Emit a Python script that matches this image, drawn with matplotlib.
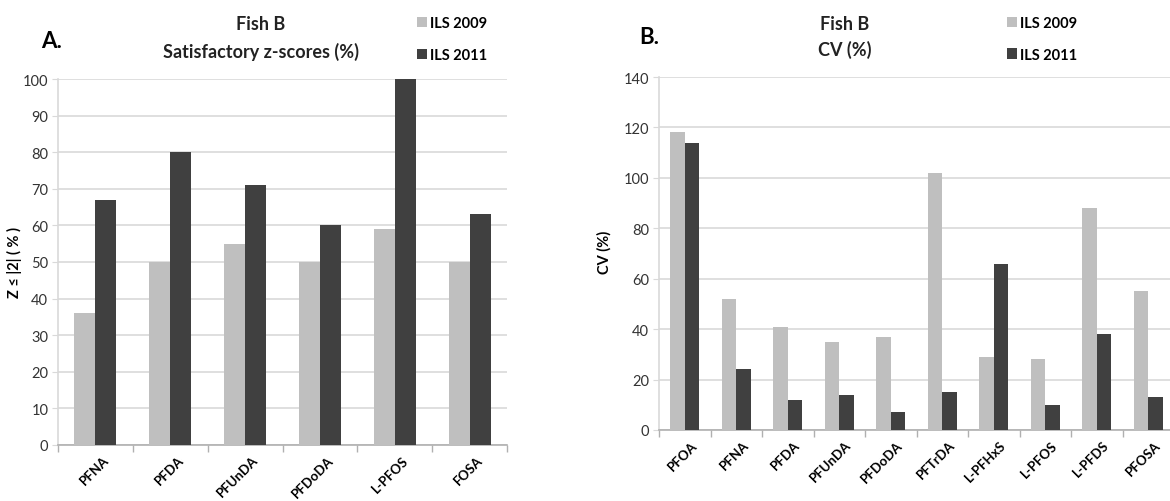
import numpy as np
import matplotlib
matplotlib.use("Agg")
import matplotlib.pyplot as plt
import matplotlib.transforms as mtransforms
from matplotlib.ticker import FixedLocator

# ----------------------------
# Data
# ----------------------------
z_compounds = ["PFNA", "PFDA", "PFUnDA", "PFDoDA", "L-PFOS", "FOSA"]
z_2009 = [36, 50, 55, 50, 59, 50]
z_2011 = [67, 80, 71, 60, 100, 63]

cv_compounds = ["PFOA", "PFNA", "PFDA", "PFUnDA", "PFDoDA", "PFTrDA",
                "L-PFHxS", "L-PFOS", "L-PFDS", "PFOSA"]
cv_2009 = [118, 52, 41, 35, 37, 102, 29, 28, 88, 55]
cv_2011 = [114, 24, 12, 14, 7, 15, 66, 10, 38, 13]

series_labels = ["ILS 2009", "ILS 2011"]

# ----------------------------
# Style
# ----------------------------
plt.rcParams["font.family"] = ["Lato", "DejaVu Sans"]
LIGHT = "#bfbfbf"
DARK = "#404040"
GRID = "#d9d9d9"
W, H = 1170, 502

fig = plt.figure(figsize=(W / 100, H / 100), dpi=100)


def px(x, y):
    # pixel coords (from top-left) -> figure fraction
    return x / W, 1 - y / H


def draw_panel(ax, cats, a, b, ymax, ystep, label_shift):
    x = np.arange(len(cats))
    bw = 0.28
    bars1 = ax.bar(x - bw / 2, a, bw, color=LIGHT, linewidth=0, label=series_labels[0], zorder=3)
    bars2 = ax.bar(x + bw / 2, b, bw, color=DARK, linewidth=0, label=series_labels[1], zorder=3)
    ax.set_xlim(-0.5, len(cats) - 0.5)
    ax.set_ylim(0, ymax)
    ax.set_yticks(np.arange(0, ymax + 1, ystep))
    ax.yaxis.grid(True, color=GRID, linewidth=1.2, zorder=0)
    ax.set_axisbelow(True)
    for s in ["top", "right"]:
        ax.spines[s].set_visible(False)
    ax.spines["left"].set_color(GRID)
    ax.spines["bottom"].set_color("#b0b0b0")
    ax.spines["left"].set_linewidth(1.2)
    ax.spines["bottom"].set_linewidth(1.2)
    ax.tick_params(axis="y", length=4, color=GRID, labelsize=10.5, labelcolor="#333333", pad=3)
    # category labels at centers, tick marks at boundaries
    ax.set_xticks(x)
    ax.set_xticklabels(cats, rotation=45, ha="right", va="top",
                       rotation_mode="anchor", fontweight="bold", fontsize=9.5)
    ax.tick_params(axis="x", which="major", length=0, pad=6)
    ax.xaxis.set_minor_locator(FixedLocator(np.arange(len(cats) + 1) - 0.5))
    ax.tick_params(axis="x", which="minor", length=5, color="#b0b0b0", width=1)
    shift = mtransforms.ScaledTranslation(label_shift / 100, 0, fig.dpi_scale_trans)
    for lab in ax.get_xticklabels():
        lab.set_transform(lab.get_transform() + shift)
    return bars1, bars2


# ----------------------------
# Panel A
# ----------------------------
l, t = px(58, 80)
r, b_ = px(507, 446)
axA = fig.add_axes([l, b_, r - l, t - b_])
hA = draw_panel(axA, z_compounds, z_2009, z_2011, 100, 10, 7)

fig.text(*px(52, 41), "A.", fontsize=16, fontweight="bold", ha="center", va="center")
fig.text(*px(261, 25), "Fish B", fontsize=13, fontweight="bold", ha="center", va="center", color="#222222")
fig.text(*px(261, 52), "Satisfactory z-scores (%)", fontsize=13, fontweight="bold",
         ha="center", va="center", color="#222222")
fig.text(*px(14, 262), "Z \u2264 |2| ( % )", fontsize=10.5, fontweight="bold",
         rotation=90, ha="center", va="center")
fig.legend(hA, series_labels, loc="upper left", bbox_to_anchor=px(417, 17),
           frameon=False, prop={"weight": "bold", "size": 10.5},
           handlelength=0.7, handleheight=0.7, handletextpad=0.2, labelspacing=1.25,
           borderaxespad=0, borderpad=0)

# ----------------------------
# Panel B
# ----------------------------
l, t = px(659, 78)
r, b_ = px(1174, 431)
axB = fig.add_axes([l, b_, r - l, t - b_])
hB = draw_panel(axB, cv_compounds, cv_2009, cv_2011, 140, 20, 6)

fig.text(*px(649, 37), "B.", fontsize=16, fontweight="bold", ha="center", va="center")
fig.text(*px(845, 25), "Fish B", fontsize=13, fontweight="bold", ha="center", va="center", color="#222222")
fig.text(*px(845, 50), "CV (%)", fontsize=13, fontweight="bold", ha="center", va="center", color="#222222")
fig.text(*px(604, 252), "CV (%)", fontsize=10.5, fontweight="bold",
         rotation=90, ha="center", va="center")
fig.legend(hB, series_labels, loc="upper left", bbox_to_anchor=px(1007, 17),
           frameon=False, prop={"weight": "bold", "size": 10.5},
           handlelength=0.7, handleheight=0.7, handletextpad=0.2, labelspacing=1.2,
           borderaxespad=0, borderpad=0)

fig.savefig("out.png", dpi=100)
